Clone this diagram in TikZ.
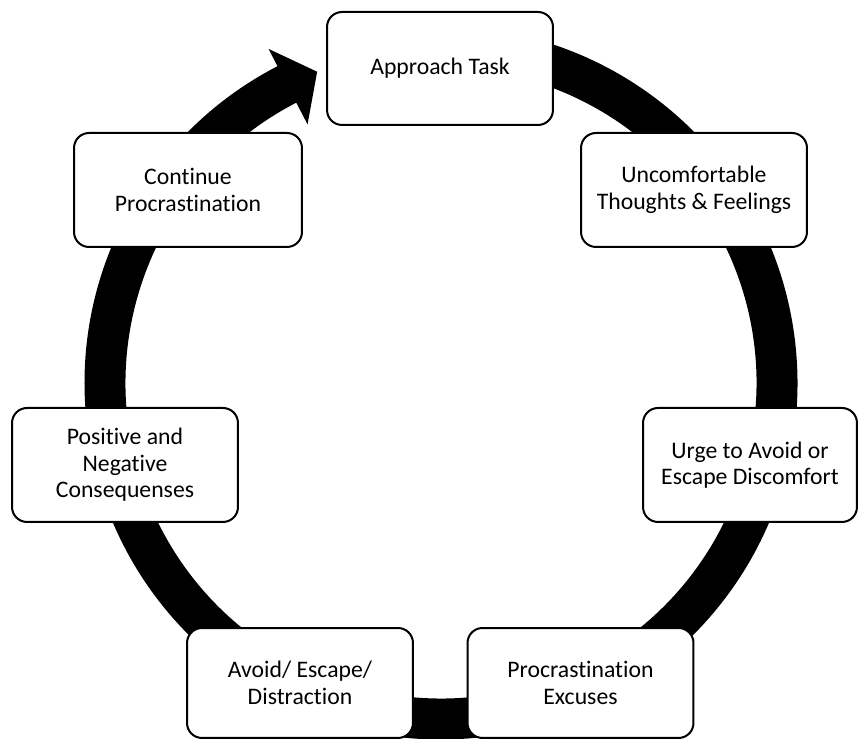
\documentclass[tikz,border=0pt]{standalone}
\usepackage{fontspec}
\setmainfont{Carlito}[Ligatures=NoCommon]
\tikzset{
  stage/.style={draw, line width=0.04cm, rounded corners=0.3cm, fill=white, align=center,
    minimum width=4.52cm, minimum height=2.28cm, inner sep=0pt,
    font=\fontsize{13.5}{15.1}\selectfont},
}
\begin{document}
\begin{tikzpicture}[x=0.02cm,y=0.02cm]
    \useasboundingbox (0,0) rectangle (859,739);
    \coordinate (ctr) at (441,356);
    % the cycle arrow
    \fill[black] ([shift={(ctr)}]95:356.5) arc[start angle=95, end angle=-242.7, radius=356.5]
      -- ([shift={(ctr)}]-242.7:376) -- ([shift={(ctr)}]-248.3:335) -- ([shift={(ctr)}]-242.7:291)
      -- ([shift={(ctr)}]-242.7:315.5) arc[start angle=-242.7, end angle=95, radius=315.5] -- cycle;
    % stages
    \node[stage, minimum height=2.26cm] (appr) at (440,670.5) {Approach Task};
    \node[stage] (uncomf) at (694,549) {Uncomfortable\\Thoughts \& Feelings};
    \node[stage, minimum width=4.28cm] (urge) at (750,274) {Urge to Avoid or\\Escape Discomfort};
    \node[stage, minimum height=2.2cm] (excuses) at (580.5,56) {Procrastination\\Excuses};
    \node[stage, minimum height=2.2cm] (avoid) at (300,56) {Avoid/ Escape/\\Distraction};
    \node[stage] (conseq) at (125,274) {Positive and\\Negative\\Consequenses};
    \node[stage, minimum width=4.56cm] (cont) at (188,549) {Continue\\Procrastination};
\end{tikzpicture}
\end{document}
